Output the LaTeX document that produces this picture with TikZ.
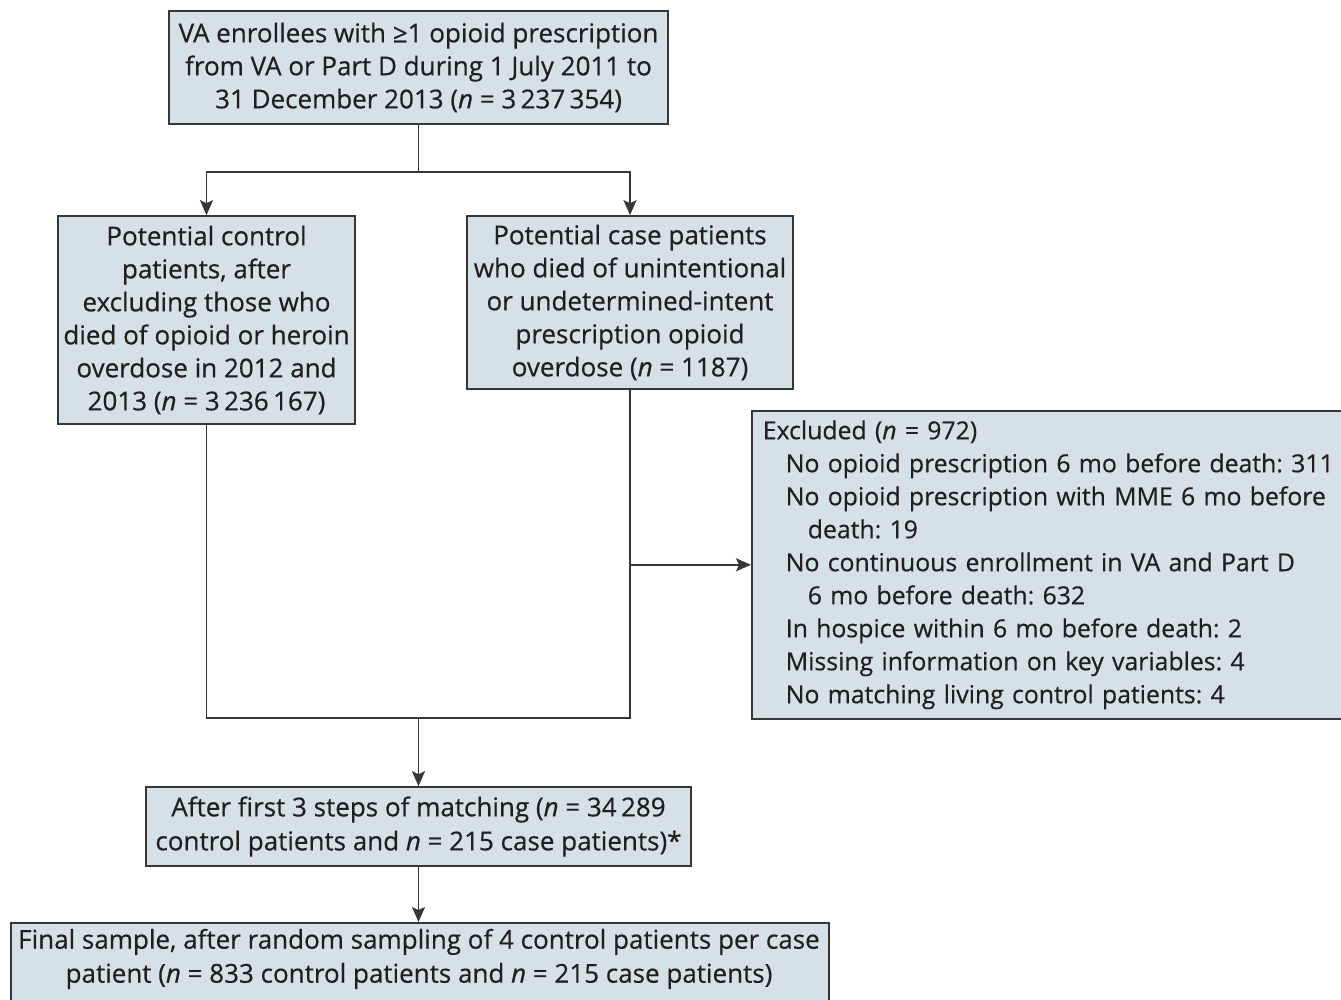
\documentclass[tikz,border=0pt]{standalone}
\usepackage{fontspec}
\setmainfont{Open Sans}[FakeBold=0.45]
\usetikzlibrary{arrows.meta}
\definecolor{boxfill}{RGB}{213,225,230}
\definecolor{linecol}{RGB}{55,55,55}
\frenchspacing
\begin{document}
\begin{tikzpicture}[x=1pt,y=-1pt,
  box/.style={draw=linecol, fill=boxfill, line width=1.6pt, align=center, inner sep=0pt,
    font=\fontsize{26}{33}\selectfont, text=black!88},
  condbox/.style={box, font=\fontsize{26}{34}\selectfont},
  conn/.style={draw=linecol, line width=1.6pt},
  arr/.style={conn, -{Stealth[length=15pt,width=13pt,inset=3pt]}}]
\clip (0,0) rectangle (1341,1000);
\fill[white] (0,0) rectangle (1341,1000);

\node[box, minimum width=499pt, minimum height=113pt] (top) at (418.5,67.5)
  {VA enrollees with ≥1 opioid prescription\\from VA or Part D during 1 July 2011 to\\31 December 2013 (\textit{n} = 3\,237\,354)};

\node[box, minimum width=297pt, minimum height=208pt] (left) at (206.5,320)
  {Potential control\\patients, after\\excluding those who\\died of opioid or heroin\\overdose in 2012 and\\2013 (\textit{n} = 3\,236\,167)};

\node[box, minimum width=326pt, minimum height=173pt] (mid) at (630,302.5)
  {Potential case patients\\who died of unintentional\\or undetermined-intent\\prescription opioid\\overdose (\textit{n} = 1187)};

\node[box, anchor=north west, align=left, text width=640pt, inner xsep=11pt,
  minimum height=308pt, font=\fontsize{24.8}{33}\selectfont] (excl) at (751,410)
  {Excluded (\textit{n} = 972)\\
   \hspace*{23pt}No opioid prescription 6 mo before death: 311\\
   \hspace*{23pt}No opioid prescription with MME 6 mo before\\
   \hspace*{45pt}death: 19\\
   \hspace*{23pt}No continuous enrollment in VA and Part D\\
   \hspace*{45pt}6 mo before death: 632\\
   \hspace*{23pt}In hospice within 6 mo before death: 2\\
   \hspace*{23pt}Missing information on key variables: 4\\
   \hspace*{23pt}No matching living control patients: 4};

\node[condbox, minimum width=545pt, minimum height=79pt] (match) at (418.5,826.5)
  {After first 3 steps of matching (\textit{n} = 34\,289\\control patients and \textit{n} = 215 case patients)*};

\node[condbox, anchor=north west, minimum width=818pt, minimum height=110pt] (final) at (10,922)
  {\rule{0pt}{0pt}};
\node[condbox, draw=none, fill=none, anchor=north] (finaltext) at (419,928)
  {Final sample, after random sampling of 4 control patients per case\\patient (\textit{n} = 833 control patients and \textit{n} = 215 case patients)};

\coordinate (split) at (418.5,172);
\coordinate (join) at (418.5,718);
\draw[conn] (top.south) -- (split);
\draw[arr] (split) -| (left.north);
\draw[arr] (split) -| (mid.north);
\draw[conn] (left.south) |- (join) -| (mid.south);
\coordinate (branch) at (mid.south |- excl.west);
\draw[arr] (branch) -- (excl.west);
\draw[arr] (join) -- (match.north);
\draw[arr] (match.south) -- (final.north -| match.south);
\end{tikzpicture}
\end{document}
